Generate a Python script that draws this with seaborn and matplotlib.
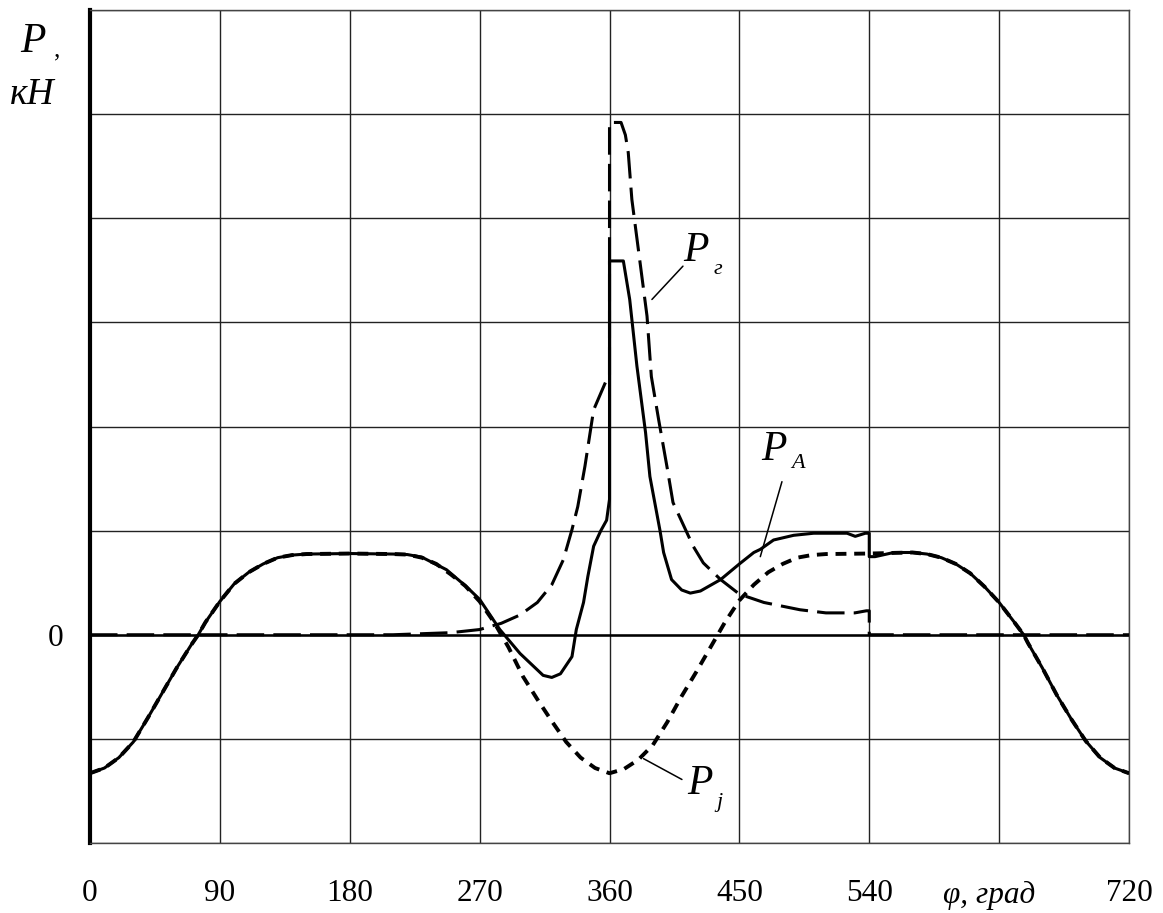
import numpy as np
import pandas as pd
import matplotlib.pyplot as plt
import matplotlib.transforms as mtransforms
import seaborn as sns

# crank angle (deg) and forces (kN)
phi_j = [0, 10, 20, 30, 40, 50, 60, 70, 75, 80, 90, 100, 110, 120, 130, 140, 150,
         180, 210, 220, 230, 240, 250, 260, 270, 280, 290, 300, 310, 320, 330, 340,
         350, 360, 370, 380, 390, 400, 410, 420, 430, 440, 450, 460, 470, 480, 490,
         500, 510, 540, 570, 580, 590, 600, 610, 620, 630, 640, 647, 650, 660, 670,
         680, 690, 700, 710, 720]
p_j = [-1.33, -1.28, -1.18, -1.03, -0.80, -0.56, -0.32, -0.10, 0.0, 0.12, 0.32, 0.49,
       0.60, 0.68, 0.74, 0.765, 0.775, 0.78, 0.775, 0.77, 0.74, 0.68, 0.58, 0.47, 0.32,
       0.12, -0.12, -0.40, -0.62, -0.83, -1.03, -1.18, -1.28, -1.33, -1.29, -1.20,
       -1.06, -0.84, -0.59, -0.36, -0.12, 0.12, 0.33, 0.48, 0.60, 0.68, 0.74, 0.765,
       0.775, 0.78, 0.79, 0.775, 0.74, 0.68, 0.59, 0.46, 0.31, 0.13, 0.0, -0.08, -0.32,
       -0.58, -0.81, -1.02, -1.18, -1.28, -1.33]

phi_g = [0, 210, 230, 250, 270, 285, 298, 310, 320, 328, 334, 338, 343, 349, 357.7,
         360, 360, 368, 371, 373, 375.5, 380, 386, 389, 394, 400, 404, 410, 418, 425,
         437, 450, 467, 492, 510, 530, 538, 540, 540, 720]
p_g = [0, 0, 0.01, 0.02, 0.05, 0.11, 0.19, 0.31, 0.48, 0.72, 1.01, 1.23, 1.62, 2.16,
       2.44, 2.48, 4.92, 4.92, 4.80, 4.63, 4.18, 3.70, 3.06, 2.48, 2.07, 1.60, 1.27,
       1.09, 0.85, 0.69, 0.53, 0.39, 0.31, 0.24, 0.21, 0.21, 0.23, 0.23, 0.0, 0.0]

phi_a = [0, 10, 20, 30, 40, 50, 60, 70, 75, 80, 90, 100, 110, 120, 130, 140, 150,
         180, 210, 220, 230, 247, 261, 270, 284, 298, 314, 320, 326, 334, 337, 342,
         345, 349, 354, 358, 360, 360, 369.6, 374, 379, 385, 388, 395, 397.5, 403,
         410, 416, 423, 437, 450, 460, 464.5, 473.7, 487.6, 501.5, 524.6, 530.3,
         537.3, 540, 540, 544, 557, 570, 580, 590, 600, 610, 620, 630, 640, 647, 650,
         660, 670, 680, 690, 700, 710, 720]
p_a = [-1.33, -1.28, -1.18, -1.03, -0.80, -0.56, -0.32, -0.10, 0.0, 0.12, 0.32, 0.49,
       0.60, 0.68, 0.74, 0.765, 0.775, 0.78, 0.775, 0.77, 0.745, 0.625, 0.46, 0.34,
       0.05, -0.18, -0.39, -0.41, -0.375, -0.21, 0.05, 0.31, 0.56, 0.85, 1.0, 1.1,
       1.3, 3.59, 3.59, 3.22, 2.58, 1.94, 1.52, 1.0, 0.79, 0.53, 0.43, 0.40, 0.42,
       0.53, 0.68, 0.79, 0.82, 0.91, 0.955, 0.975, 0.975, 0.945, 0.975, 0.975, 0.75,
       0.75, 0.79, 0.79, 0.775, 0.74, 0.68, 0.59, 0.46, 0.31, 0.13, 0.0, -0.08, -0.32,
       -0.58, -0.81, -1.02, -1.18, -1.28, -1.33]

x_ticks = [0, 90, 180, 270, 360, 450, 540, 630, 720]
x_labels = ["0", "90", "180", "270", "360", "450", "540", "", "720"]
y_ticks = [-2, -1, 0, 1, 2, 3, 4, 5, 6]

sns.set_theme(style="white")
plt.rcParams["font.family"] = ["Liberation Serif", "DejaVu Serif"]
plt.rcParams["text.color"] = "black"

W, H = 1163, 913
fig = plt.figure(figsize=(W / 100, H / 100), dpi=100)
ax = fig.add_axes([90 / W, 1 - 843 / H, (1129 - 90) / W, (843 - 10) / H])

ax.set_xlim(0, 720)
ax.set_ylim(-2, 6)
ax.set_xticks(x_ticks)
ax.set_xticklabels(x_labels)
ax.set_yticks(y_ticks)
ax.set_yticklabels(["0" if v == 0 else "" for v in y_ticks])
ax.tick_params(axis="x", length=0, pad=26, labelsize=22.5, colors="black")
ax.tick_params(axis="y", length=0, pad=19, labelsize=22.5, colors="black")
ax.grid(True, color="#222222", lw=1.0)
for side in ["top", "right", "bottom"]:
    ax.spines[side].set_color("#444444")
    ax.spines[side].set_linewidth(1.0)
ax.spines["left"].set_color("black")
ax.spines["left"].set_linewidth(3.0)
ax.axhline(0, color="black", lw=1.8, zorder=2)

df_j = pd.DataFrame({"phi": phi_j, "P": p_j})
df_g = pd.DataFrame({"phi": phi_g, "P": p_g})
df_a = pd.DataFrame({"phi": phi_a, "P": p_a})

sns.lineplot(data=df_j, x="phi", y="P", ax=ax, estimator=None, sort=False,
             color="black", lw=2.8, zorder=3).lines[-1].set_dashes([2.8, 2.0])
sns.lineplot(data=df_g, x="phi", y="P", ax=ax, estimator=None, sort=False,
             color="black", lw=2.2, zorder=4).lines[-1].set_dashes([9, 3])
sns.lineplot(data=df_a, x="phi", y="P", ax=ax, estimator=None, sort=False,
             color="black", lw=2.2, zorder=5)
ax.set_xlabel("")
ax.set_ylabel("")

# curve labels with leader lines
big = dict(fontsize=30, style="italic", color="black", ha="center", va="center")
small = dict(fontsize=16, style="italic", color="black", ha="center", va="center")
ax.plot([389.4, 410.9], [3.22, 3.54], color="black", lw=1.1)
ax.text(420.1, 3.69, "P", **big)
ax.text(435.0, 3.51, "г", **small)
ax.plot([464.5, 479.5], [0.75, 1.47], color="black", lw=1.1)
ax.text(474.2, 1.78, "P", **big)
ax.text(490.5, 1.64, "A", **small)
ax.plot([383.6, 410.2], [-1.19, -1.39], color="black", lw=1.1)
ax.text(422.9, -1.43, "P", **big)
ax.text(436.4, -1.61, "j", **small)

# axis titles
trans = mtransforms.blended_transform_factory(ax.transData, ax.transAxes)
ax.text(623, -0.063, "φ, град", transform=trans, fontsize=22.5, style="italic",
        color="black", ha="center", va="center")
fig.text(33 / W, 1 - 42 / H, "P", fontsize=30, style="italic", color="black",
         ha="center", va="center")
fig.text(57 / W, 1 - 50 / H, ",", fontsize=18, color="black", ha="center", va="center")
fig.text(32 / W, 1 - 95 / H, "кН", fontsize=27, style="italic", color="black",
         ha="center", va="center")

fig.savefig("out.png", dpi=100)
